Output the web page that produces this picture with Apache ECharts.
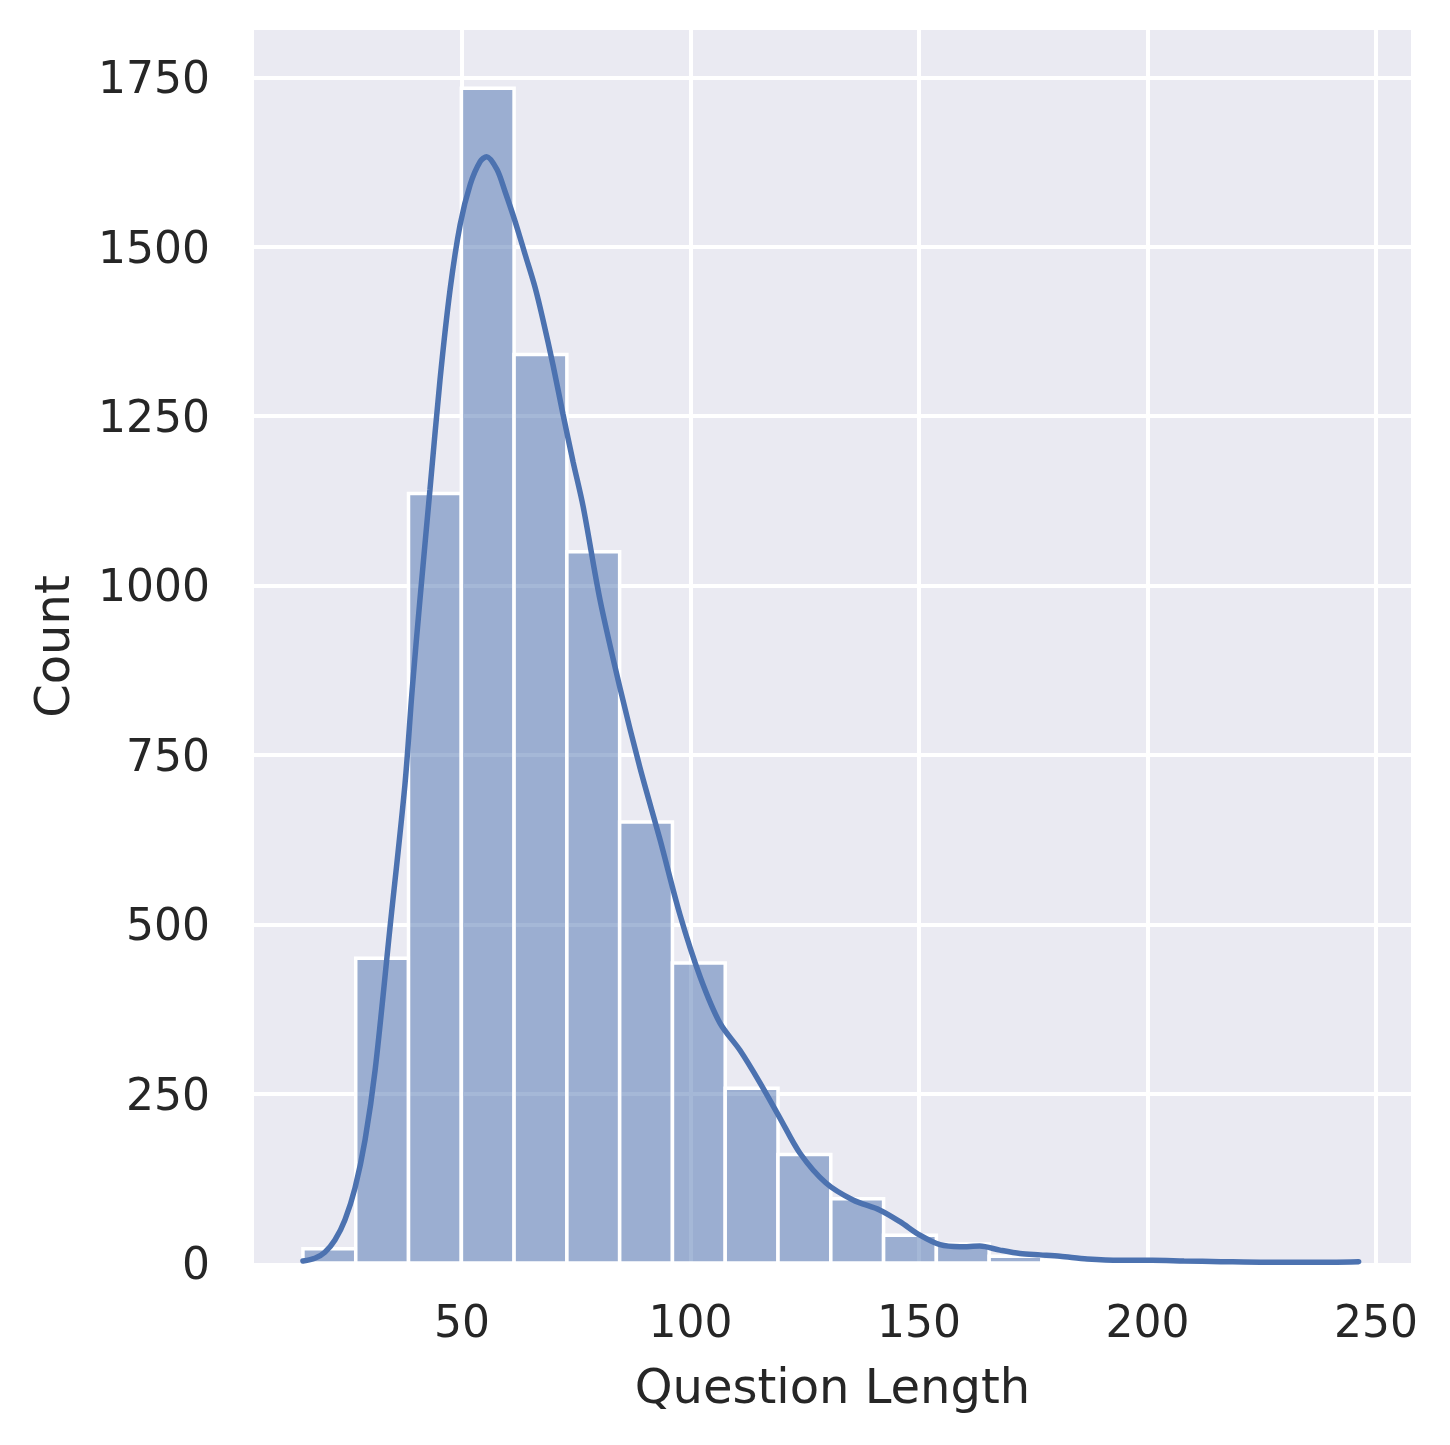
<!DOCTYPE html>
<html>
<head>
<meta charset="utf-8">
<script src="https://cdn.jsdelivr.net/npm/echarts@6/dist/echarts.min.js"></script>
<style>
html,body{margin:0;padding:0;background:#fff;}
#chart{width:1450px;height:1445px;}
</style>
</head>
<body>
<div id="chart"></div>
<script>
// Histogram bins (Question Length)
const binStart = 15.2;
const binWidth = 11.55;
const binCounts = [21, 450, 1136, 1734, 1341, 1050, 651, 443, 258, 160, 95, 41, 28, 10, 4, 2, 1, 1, 0, 1];

// KDE curve samples: x (question length) and y (count scale)
const kdeX = [15.2, 17.8, 20.0, 22.2, 24.4, 26.6, 28.8, 31.0, 34.2, 37.5, 39.1, 40.8, 43, 45.2, 47.4, 49.6, 51.8, 54, 55.4, 57.66, 59.4, 61.6, 63.8, 66.0, 67.7, 69.9, 72.1, 74.3, 76.5, 80.2, 84.57, 88.95, 93.33, 97.7, 102.08, 106.46, 110.83, 115.21, 119.58, 123.96, 129.65, 135.56, 141.47, 145.84, 150.22, 154.6, 159, 163.3, 167.7, 172.1, 176.5, 180.9, 186.8, 194, 201, 208, 216, 226, 236, 246.2];
const kdeY = [3, 7, 16, 34, 64, 111, 182, 285, 492, 705, 846, 979, 1142, 1304, 1437, 1533, 1592, 1626, 1633, 1614, 1582, 1538, 1489, 1440, 1393, 1326, 1253, 1183, 1117, 979, 849, 731, 625, 514, 423, 354, 314, 266, 214, 162, 118, 93, 78, 61, 41, 27, 24, 25, 19, 14, 12, 10, 6, 4, 4, 3, 2, 1, 1, 2];

// Axis settings
const xTicks = [50, 100, 150, 200, 250];
const yTicks = [0, 250, 500, 750, 1000, 1250, 1500, 1750];
const xRange = [4.49, 257.66];
const yRange = [0, 1820];

const histData = binCounts.map((c, i) => [binStart + i * binWidth, binStart + (i + 1) * binWidth, c]);
const kdeData = kdeX.map((x, i) => [x, kdeY[i]]);

const chart = echarts.init(document.getElementById('chart'), null, {renderer: 'canvas'});
const txt = '#262626';
const font = 'DejaVu Sans';

chart.setOption({
  animation: false,
  backgroundColor: '#ffffff',
  grid: {
    left: 254, right: 39, top: 30, bottom: 182,
    show: true, backgroundColor: '#eaeaf2', borderWidth: 0
  },
  xAxis: {
    type: 'value',
    min: xRange[0], max: xRange[1],
    splitNumber: 5,
    minInterval: xTicks[1] - xTicks[0],
    maxInterval: xTicks[1] - xTicks[0],
    axisLine: {show: false},
    axisTick: {show: false},
    axisLabel: {
      color: txt, fontFamily: font, fontSize: 44, margin: 41,
      showMinLabel: false, showMaxLabel: false,
      formatter: v => String(v)
    },
    splitLine: {show: true, showMinLine: false, showMaxLine: false, lineStyle: {color: '#ffffff', width: 4}},
    name: 'Question Length',
    nameLocation: 'middle',
    nameGap: 104,
    nameTextStyle: {color: txt, fontFamily: font, fontSize: 48}
  },
  yAxis: {
    type: 'value',
    min: yRange[0], max: yRange[1],
    splitNumber: 7,
    minInterval: yTicks[1] - yTicks[0],
    maxInterval: yTicks[1] - yTicks[0],
    axisLine: {show: false},
    axisTick: {show: false},
    axisLabel: {
      color: txt, fontFamily: font, fontSize: 44, margin: 44,
      showMaxLabel: false,
      formatter: v => '{a|' + String(v) + '}',
      rich: {a: {color: txt, fontFamily: font, fontSize: 44, padding: [9, 0, 0, 0]}}
    },
    splitLine: {show: true, showMinLine: false, showMaxLine: false, lineStyle: {color: '#ffffff', width: 4}},
    name: 'Count',
    nameLocation: 'middle',
    nameGap: 173,
    nameRotate: 90,
    nameTextStyle: {color: txt, fontFamily: font, fontSize: 48, padding: [0, 0, 0, 0]}
  },
  series: [
    {
      type: 'custom',
      z: 2,
      data: histData,
      encode: {x: [0, 1], y: 2},
      renderItem: function (params, api) {
        const p0 = api.coord([api.value(0), api.value(2)]);
        const p1 = api.coord([api.value(1), 0]);
        return {
          type: 'rect',
          shape: {x: p0[0], y: p0[1], width: p1[0] - p0[0], height: p1[1] - p0[1]},
          style: {fill: 'rgba(76,114,176,0.5)', stroke: '#ffffff', lineWidth: 3.5}
        };
      }
    },
    {
      type: 'line',
      z: 3,
      data: kdeData,
      smooth: 0.3,
      showSymbol: false,
      symbol: 'none',
      lineStyle: {color: '#4c72b0', width: 5.5, cap: 'round'}
    }
  ]
});
</script>
</body>
</html>
